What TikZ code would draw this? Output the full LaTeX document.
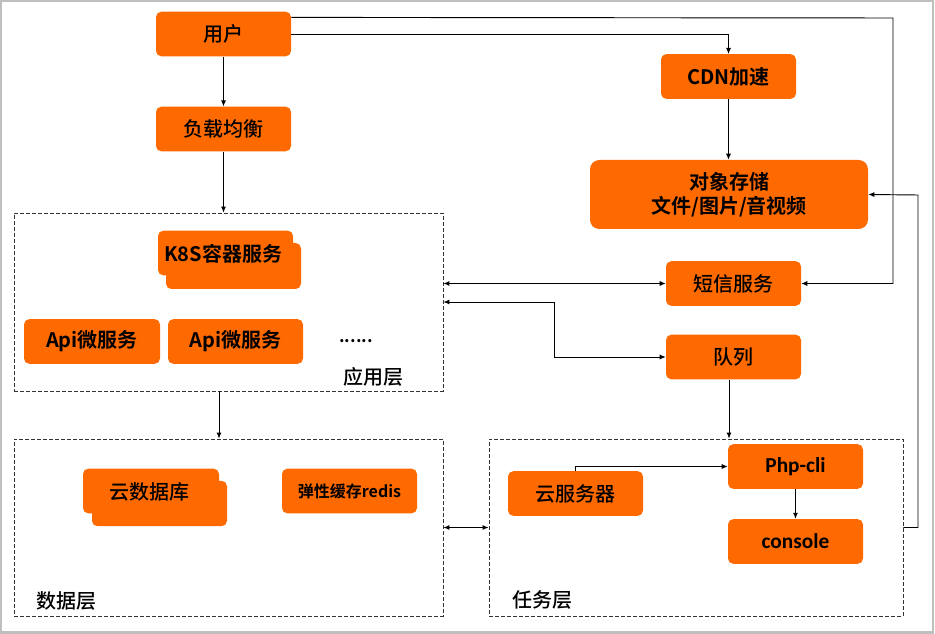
\documentclass[tikz,border=0pt]{standalone}
\usepackage{fontspec}
\setmainfont{Noto Sans CJK SC}[UprightFont={* Medium},BoldFont={* Bold}]
\newfontfamily\lat{Carlito}
\usetikzlibrary{arrows.meta,calc}
\definecolor{orng}{HTML}{FF6A00}
\begin{document}
\begin{tikzpicture}[x=0.75pt,y=-0.75pt,
  ob/.style={fill=orng, rounded corners=4pt, inner sep=0pt, minimum width=101.25pt, minimum height=33.5pt, font=\fontsize{15}{18}\selectfont},
  layer/.style={draw=black!80, dash pattern=on 3pt off 1.5pt, line width=0.6pt, inner sep=0pt},
  lbl/.style={inner sep=0pt, font=\fontsize{15}{18}\selectfont},
  conn/.style={line width=0.7pt},
  arr/.style={conn, -{Latex[length=4.5pt,width=3.8pt]}},
  darr/.style={conn, {Latex[length=4.5pt,width=3.8pt]}-{Latex[length=4.5pt,width=3.8pt]}}]
\useasboundingbox (0,0) rectangle (935,634);
\draw[black!25, line width=1.6pt] (0.8,0.8) rectangle (933.2,632.5);

% layer boxes
\node[layer, minimum width=321.75pt, minimum height=133.5pt] (appbox) at (228.5,302) {};
\node[layer, minimum width=321.75pt, minimum height=132.75pt] (databox) at (228.5,527.5) {};
\node[layer, minimum width=310.5pt, minimum height=132.75pt] (taskbox) at (696,527.5) {};

% top nodes
\node[ob] (user) at (223.5,34) {用户};
\node[ob] (lb) at (223.5,129) {负载均衡};
\node[ob] (cdn) at (728.5,76.5) {\bfseries CDN加速};
\node[ob, rounded corners=7pt, minimum width=208.5pt, minimum height=51.75pt, align=center] (oss) at (729,194.5) {\bfseries 对象存储\\\bfseries 文件/图片/音视频};
\node[ob] (sms) at (733.5,283.5) {短信服务};
\node[ob] (queue) at (733.5,357) {队列};

% application layer
\node[ob, minimum height=34.5pt] (k8sb) at (233.5,266) {};
\node[ob] (k8sa) at (225.5,253) {};
\node[lbl, font=\fontsize{15}{18}\selectfont\bfseries] (k8s) at (223,254) {K8S容器服务};
\node[ob, minimum width=102pt] (api1) at (92,341.5) {\bfseries Api微服务};
\node[ob] (api2) at (235.5,341.5) {\bfseries Api微服务};
\node[lbl, font=\fontsize{13}{15}\selectfont\bfseries] (dots) at (356,341) {......};
\node[lbl] (applbl) at (373.5,377) {应用层};

% data layer
\node[ob, minimum height=34pt] (dbb) at (159.5,503.5) {};
\node[ob, minimum width=102pt] (dba) at (151,491) {};
\node[lbl] (db) at (149,492) {云数据库};
\node[ob, font=\fontsize{12}{14}\selectfont\bfseries] (redis) at (349.5,491) {弹性缓存redis};
\node[lbl] (datalbl) at (66.5,601) {数据层};

% task layer
\node[ob] (ecs) at (575.5,493.5) {云服务器};
\node[ob, font=\fontsize{16}{18}\selectfont\lat\bfseries] (php) at (795.5,466.5) {Php-cli};
\node[ob, font=\fontsize{16}{18}\selectfont\lat\bfseries] (console) at (795.5,541.5) {console};
\node[lbl] (tasklbl) at (542.5,600) {任务层};

% connectors
\coordinate (rt) at (893,18);
\coordinate (rt2) at (918,195);
\coordinate (q1) at (554,302);

\draw[arr] (user.south) -- (lb.north);
\draw[arr] (lb.south) -- (lb.south |- appbox.north);
\draw[arr] (user.east) -| (cdn.north);
\draw[arr] ($(user.north east)+(0,6)$) -- (rt) |- (sms.east);
\draw[arr] (cdn.south) -- (cdn.south |- oss.north);
\draw[arr] (taskbox.east) -| (rt2) -- (oss.east);
\draw[darr] (appbox.east |- sms.west) -- (sms.west);
\draw[darr] (appbox.east |- q1) -- (q1) |- (queue.west);
\draw[arr] ($(queue.south)+(-4.5,0)$) -- ($(queue.south |- taskbox.north)+(-4.5,0)$);
\draw[arr] ($(appbox.south)+(-9.5,0)$) -- ($(databox.north)+(-9.5,0)$);
\draw[darr] (databox.east) -- (taskbox.west);
\draw[arr] (ecs.north) |- (php.west);
\draw[arr, line width=1.3pt] (php.south) -- (console.north);
\end{tikzpicture}
\end{document}
